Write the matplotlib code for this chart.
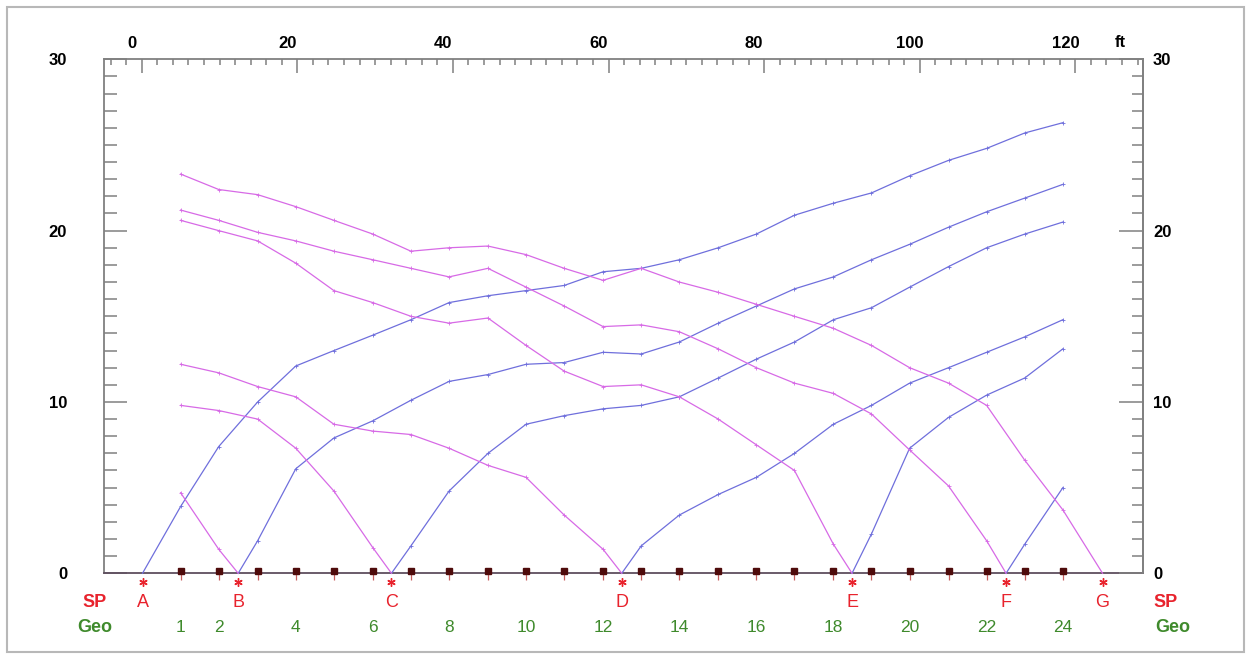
import matplotlib
matplotlib.use("Agg")
import matplotlib.pyplot as plt
from matplotlib import transforms
from matplotlib.patches import Rectangle
from matplotlib.ticker import MultipleLocator, FixedLocator

plt.rcParams['font.family'] = ['Liberation Sans', 'DejaVu Sans']

# ---- survey layout (distances in ft) ----
geo_x = [5.0, 9.9, 14.9, 19.8, 24.7, 29.7, 34.6, 39.5, 44.5, 49.4, 54.3, 59.3,
         64.2, 69.1, 74.1, 79.0, 83.9, 88.9, 93.8, 98.7, 103.7, 108.6, 113.5, 118.4]
geo_labelled = [1, 2, 4, 6, 8, 10, 12, 14, 16, 18, 20, 22, 24]

shot_names = ['A', 'B', 'C', 'D', 'E', 'F', 'G']
shot_x = [0.1, 12.4, 32.1, 61.7, 91.3, 111.1, 123.5]

# ---- first-arrival travel times (ms) ----
# forward branches: times at consecutive geophones starting at fwd_first
tt_A_fwd = [3.9, 7.4, 10.0, 12.1, 13.0, 13.9, 14.8, 15.8, 16.2, 16.5, 16.8, 17.6,
            17.8, 18.3, 19.0, 19.8, 20.9, 21.6, 22.2, 23.2, 24.1, 24.8, 25.7, 26.3]
tt_B_fwd = [1.9, 6.1, 7.9, 8.9, 10.1, 11.2, 11.6, 12.2, 12.3, 12.9, 12.8, 13.5,
            14.6, 15.6, 16.6, 17.3, 18.3, 19.2, 20.2, 21.1, 21.9, 22.7]
tt_C_fwd = [1.6, 4.8, 7.0, 8.7, 9.2, 9.6, 9.8, 10.3, 11.4, 12.5, 13.5, 14.8,
            15.5, 16.7, 17.9, 19.0, 19.8, 20.5]
tt_D_fwd = [1.6, 3.4, 4.6, 5.6, 7.0, 8.7, 9.8, 11.1, 12.0, 12.9, 13.8, 14.8]
tt_E_fwd = [2.3, 7.3, 9.1, 10.4, 11.4, 13.1]
tt_F_fwd = [1.7, 5.0]
fwd_first = [1, 3, 7, 13, 19, 23]

# reverse branches: times from geophone 1 up to the geophone before the shot
tt_B_rev = [4.7, 1.4]
tt_C_rev = [9.8, 9.5, 9.0, 7.3, 4.8, 1.5]
tt_D_rev = [12.2, 11.7, 10.9, 10.3, 8.7, 8.3, 8.1, 7.3, 6.3, 5.6, 3.4, 1.4]
tt_E_rev = [20.6, 20.0, 19.4, 18.1, 16.5, 15.8, 15.0, 14.6, 14.9, 13.3, 11.8, 10.9,
            11.0, 10.3, 9.0, 7.5, 6.0, 1.7]
tt_F_rev = [21.2, 20.6, 19.9, 19.4, 18.8, 18.3, 17.8, 17.3, 17.8, 16.7, 15.6, 14.4,
            14.5, 14.1, 13.1, 12.0, 11.1, 10.5, 9.3, 7.2, 5.1, 1.9]
tt_G_rev = [23.3, 22.4, 22.1, 21.4, 20.6, 19.8, 18.8, 19.0, 19.1, 18.6, 17.8, 17.1,
            17.8, 17.0, 16.4, 15.7, 15.0, 14.3, 13.3, 12.0, 11.1, 9.8, 6.6, 3.7]

FWD_COLOR = '#6f6fdc'
REV_COLOR = '#d76ae6'
RED = '#e8232d'
GREEN = '#3f8a2c'
AXIS_GRAY = '#808080'

W, H = 1251, 659
fig = plt.figure(figsize=(W / 100, H / 100), dpi=100)
fig.patch.set_facecolor('white')
fig.add_artist(Rectangle((7 / W, 7 / H), (1244 - 7) / W, (652 - 7) / H,
                         transform=fig.transFigure, fill=False,
                         ec='#b8b8b8', lw=1.5))

ax = fig.add_axes([104 / W, (H - 573.3) / H, (1143 - 104) / W, (573.3 - 59.3) / H])
ax.set_xlim(-4.85, 128.7)
ax.set_ylim(0, 30)

# ---- travel-time branches ----
fwd_sets = [tt_A_fwd, tt_B_fwd, tt_C_fwd, tt_D_fwd, tt_E_fwd, tt_F_fwd]
for k, (times, first) in enumerate(zip(fwd_sets, fwd_first)):
    gx = geo_x[first - 1:first - 1 + len(times)]
    ax.plot([shot_x[k]] + gx, [0] + times, color=FWD_COLOR, lw=0.9,
            clip_on=False, zorder=3)
    ax.plot(gx, times, ls='none', marker='+', ms=3, mew=0.6,
            color=FWD_COLOR, clip_on=False, zorder=3)

rev_sets = [tt_B_rev, tt_C_rev, tt_D_rev, tt_E_rev, tt_F_rev, tt_G_rev]
for k, times in enumerate(rev_sets, start=1):
    gx = geo_x[:len(times)]
    ax.plot(gx + [shot_x[k]], times + [0], color=REV_COLOR, lw=0.9,
            clip_on=False, zorder=3)
    ax.plot(gx, times, ls='none', marker='+', ms=3, mew=0.6,
            color=REV_COLOR, clip_on=False, zorder=3)

# ---- geophones along the surface ----
ax.plot(geo_x, [-0.2] * len(geo_x), ls='none', marker='|', ms=4, mew=0.9,
        color='#c86060', clip_on=False, zorder=4)
ax.plot(geo_x, [0.15] * len(geo_x), ls='none', marker='s', ms=4.2,
        color='#4e0b0b', clip_on=False, zorder=5)

# ---- shot points ----
ax.plot(shot_x, [-0.51] * len(shot_x), ls='none', marker=(6, 2, 0), ms=6,
        mew=1.0, color=RED, clip_on=False, zorder=5)
letter_tr = transforms.blended_transform_factory(ax.transData, fig.transFigure)
for name, x in zip(shot_names, shot_x):
    ax.text(x, 1 - 607 / H, name, transform=letter_tr, ha='center',
            va='baseline', fontsize=13, color=RED)
for g in geo_labelled:
    ax.text(geo_x[g - 1], 1 - 632 / H, str(g), transform=letter_tr,
            ha='center', va='baseline', fontsize=12.5, color=GREEN)

fig.text(95 / W, 1 - 607 / H, 'SP', ha='center', va='baseline',
         fontsize=13, fontweight='bold', color=RED)
fig.text(95 / W, 1 - 632 / H, 'Geo', ha='center', va='baseline',
         fontsize=13, fontweight='bold', color=GREEN)
fig.text(1153 / W, 1 - 607 / H, 'SP', ha='left', va='baseline',
         fontsize=13, fontweight='bold', color=RED)
fig.text(1155 / W, 1 - 632 / H, 'Geo', ha='left', va='baseline',
         fontsize=13, fontweight='bold', color=GREEN)

# ---- axes styling ----
for side in ['left', 'top', 'right']:
    ax.spines[side].set_color(AXIS_GRAY)
    ax.spines[side].set_linewidth(1.3)
ax.spines['bottom'].set_color('#5e4e5e')
ax.spines['bottom'].set_linewidth(1.3)

# distance axis on top
ax.xaxis.set_ticks_position('top')
ax.xaxis.set_major_locator(FixedLocator([0, 20, 40, 60, 80, 100, 120]))
ax.xaxis.set_minor_locator(MultipleLocator(2))
ax.tick_params(axis='x', which='both', direction='in', top=True, bottom=False,
               labeltop=True, labelbottom=False, colors=AXIS_GRAY,
               labelcolor='black', labelsize=12, pad=6, width=1.1)
ax.tick_params(axis='x', which='major', length=10)
ax.tick_params(axis='x', which='minor', length=4.2)
for lab in ax.get_xticklabels():
    lab.set_fontweight('bold')
    lab.set_transform(lab.get_transform() +
                      transforms.ScaledTranslation(-0.10, 0, fig.dpi_scale_trans))
fig.text(1120 / W, 1 - 47 / H, 'ft', ha='center', va='baseline',
         fontsize=12, fontweight='bold')

# time axis, left
ax.yaxis.set_major_locator(MultipleLocator(10))
ax.yaxis.set_minor_locator(MultipleLocator(1))
ax.tick_params(axis='y', which='both', direction='in', left=True, right=False,
               colors=AXIS_GRAY, labelcolor='black', labelsize=12, pad=26.6,
               width=1.1)
ax.tick_params(axis='y', which='major', length=16.5)
ax.tick_params(axis='y', which='minor', length=9)
for lab in ax.get_yticklabels():
    lab.set_fontweight('bold')

# time axis, right
ax2 = ax.twinx()
ax2.set_ylim(0, 30)
for side in ['left', 'top', 'bottom']:
    ax2.spines[side].set_visible(False)
ax2.spines['right'].set_color(AXIS_GRAY)
ax2.spines['right'].set_linewidth(1.3)
ax2.yaxis.set_major_locator(MultipleLocator(10))
ax2.yaxis.set_minor_locator(MultipleLocator(1))
ax2.tick_params(axis='y', which='both', direction='in', colors=AXIS_GRAY,
                labelcolor='black', labelsize=12, pad=7.2, width=1.1)
ax2.tick_params(axis='y', which='major', length=17)
ax2.tick_params(axis='y', which='minor', length=8)
for lab in ax2.get_yticklabels():
    lab.set_fontweight('bold')

fig.savefig('out.png', dpi=100)
